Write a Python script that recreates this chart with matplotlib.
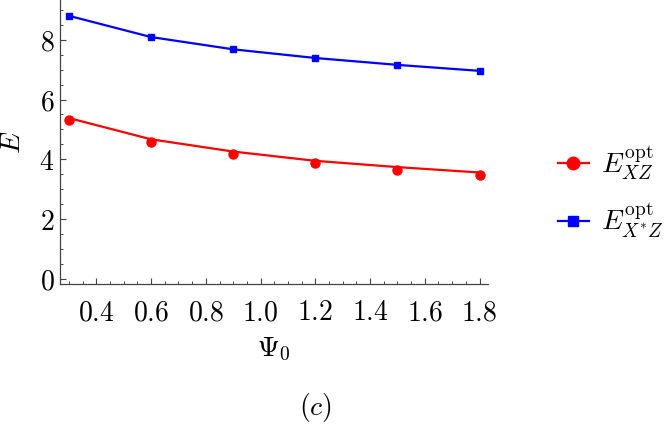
import matplotlib
matplotlib.use("Agg")
import matplotlib.pyplot as plt
from matplotlib.lines import Line2D
from matplotlib.ticker import MultipleLocator, FuncFormatter

plt.rcParams['mathtext.fontset'] = 'cm'
plt.rcParams['font.family'] = 'DejaVu Serif'

psi0 = [0.3, 0.6, 0.9, 1.2, 1.5, 1.8]
e_xz_pts = [5.30, 4.59, 4.19, 3.89, 3.66, 3.46]
e_xz_fit = [5.38, 4.67, 4.26, 3.95, 3.74, 3.56]
e_xsz = [8.80, 8.09, 7.68, 7.39, 7.16, 6.96]

label_xz = r'$E^{\mathrm{opt}}_{XZ}$'
label_xsz = r'$E^{\mathrm{opt}}_{X^{*}Z}$'

W, H = 669, 428
fig = plt.figure(figsize=(W / 100, H / 100), dpi=100)
ax = fig.add_axes([60 / W, (H - 284) / H, (488 - 60) / W, 284 / H])

red = '#ff0000'
blue = '#0000ff'
ax.plot(psi0, e_xz_fit, color=red, lw=1.6)
ax.plot(psi0, e_xz_pts, 'o', color=red, ms=6.5, lw=0)
ax.plot(psi0, e_xsz, '-s', color=blue, ms=4.5, lw=1.6)

ax.set_xlim(0.267, 1.831)
ax.set_ylim(-0.17, 9.33)

for s in ['top', 'right']:
    ax.spines[s].set_visible(False)
for s in ['left', 'bottom']:
    ax.spines[s].set_color('#444444')
    ax.spines[s].set_linewidth(0.9)

ax.xaxis.set_major_locator(MultipleLocator(0.2))
ax.xaxis.set_minor_locator(MultipleLocator(0.05))
ax.yaxis.set_major_locator(MultipleLocator(2))
ax.yaxis.set_minor_locator(MultipleLocator(0.5))
ax.xaxis.set_major_formatter(FuncFormatter(lambda v, p: r'$%.1f$' % v))
ax.yaxis.set_major_formatter(FuncFormatter(lambda v, p: r'$%d$' % round(v)))
ax.tick_params(axis='both', which='major', direction='in', length=4.5, width=0.8,
               color='#444444', labelsize=20)
ax.tick_params(axis='both', which='minor', direction='in', length=2.5, width=0.7,
               color='#444444')
ax.tick_params(axis='x', which='major', pad=11)
ax.tick_params(axis='y', which='major', pad=4)

ax.set_xlabel(r'$\Psi_0$', fontsize=20)
ax.set_ylabel(r'$E$', fontsize=20)
ax.xaxis.set_label_coords(0.5, (284 - 349) / 284)
ax.xaxis.label.set_va('center')
ax.yaxis.set_label_coords((12 - 60) / 428, 0.5)
ax.yaxis.label.set_va('center')

handles = [Line2D([], [], color=red, lw=1.6, marker='o', ms=9),
           Line2D([], [], color=blue, lw=1.6, marker='s', ms=7)]
fig.legend(handles, [label_xz, label_xsz], loc='center left',
           bbox_to_anchor=(558 / W, 1 - 192 / H), frameon=False, fontsize=20,
           borderaxespad=0, borderpad=0,
           handlelength=1.1, labelspacing=0.7, handletextpad=0.45)

fig.text(315 / W, 1 - 407 / H, r'$(c)$', fontsize=20, ha='center', va='center')

fig.savefig('out.png', dpi=100)
